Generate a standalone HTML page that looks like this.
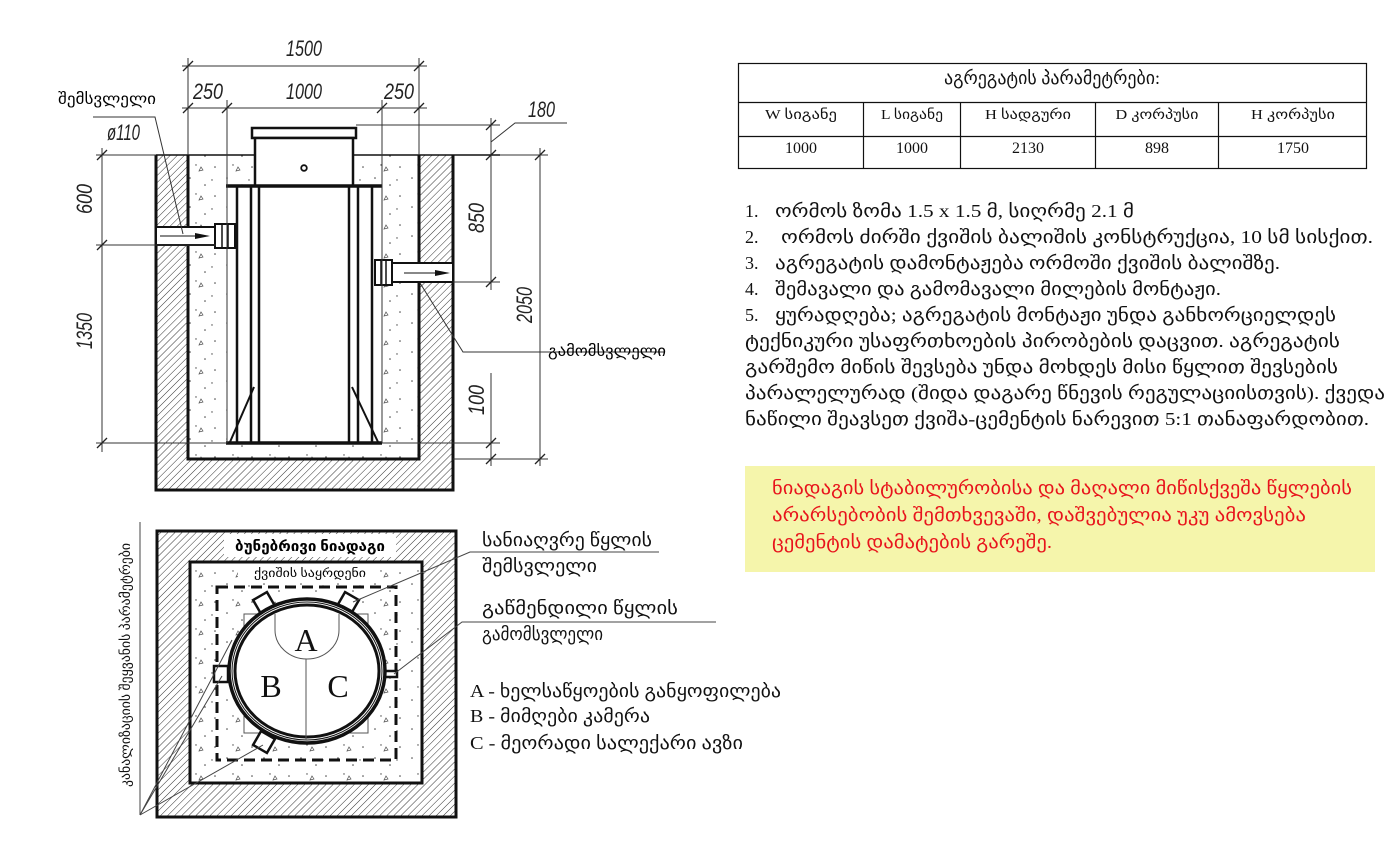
<!DOCTYPE html>
<html><head><meta charset="utf-8"><style>
html,body{margin:0;padding:0;background:#fff}
svg{display:block}
.g{font-family:"Liberation Serif","DejaVu Sans",serif}
.d{font-family:"Liberation Sans Narrow","Liberation Sans",sans-serif;font-style:italic;font-size:22px;fill:#222}
</style></head><body>
<svg width="1400" height="855" viewBox="0 0 1400 855" xmlns="http://www.w3.org/2000/svg">
<defs>
<pattern id="h" width="5" height="5" patternUnits="userSpaceOnUse" patternTransform="rotate(45)">
<rect width="5" height="5" fill="#fff"/><line x1="0" y1="0" x2="0" y2="5" stroke="#333" stroke-width="1"/>
</pattern>
<pattern id="c" width="37" height="29" patternUnits="userSpaceOnUse">
<rect width="37" height="29" fill="#fff"/>
<circle cx="5" cy="4" r="0.8" fill="#444"/><circle cx="20" cy="11" r="0.8" fill="#444"/>
<circle cx="30" cy="22" r="0.8" fill="#444"/><circle cx="11" cy="20" r="0.7" fill="#444"/>
<circle cx="27" cy="6" r="0.7" fill="#444"/><path d="M14 26 l4 -1 l-2 -3z" fill="none" stroke="#555" stroke-width="0.7"/>
</pattern>
</defs>

<!-- ================= TOP DRAWING ================= -->
<rect x="156" y="155" width="297" height="335" fill="url(#h)"/>
<rect x="188" y="155" width="231" height="304" fill="url(#c)"/>
<path d="M156 155 V490 H453 V155 M188 155 V459 H419 V155" fill="none" stroke="#111" stroke-width="3"/>
<line x1="156" y1="155" x2="254" y2="155" stroke="#111" stroke-width="1.5"/>
<line x1="353" y1="155" x2="500" y2="155" stroke="#111" stroke-width="1.5"/>
<rect x="227" y="186" width="155" height="257" fill="#fff"/>
<rect x="252" y="128" width="104" height="10" fill="#fff" stroke="#111" stroke-width="2.5"/>
<rect x="255" y="138" width="98" height="48" fill="#fff" stroke="#111" stroke-width="2.5"/>
<circle cx="304" cy="168" r="2.8" fill="none" stroke="#111" stroke-width="1.8"/>
<line x1="226" y1="186" x2="382" y2="186" stroke="#111" stroke-width="3.5"/>
<line x1="226" y1="443" x2="382" y2="443" stroke="#111" stroke-width="3.5"/>
<g stroke="#111" stroke-width="2.5">
<line x1="237" y1="186" x2="237" y2="443"/><line x1="251" y1="186" x2="251" y2="443"/><line x1="259" y1="186" x2="259" y2="443"/>
<line x1="349" y1="186" x2="349" y2="443"/><line x1="358" y1="186" x2="358" y2="443"/><line x1="372" y1="186" x2="372" y2="443"/>
<line x1="230" y1="442" x2="254" y2="387" stroke-width="2"/><line x1="378" y1="442" x2="352" y2="387" stroke-width="2"/>
</g>
<rect x="156" y="227" width="60" height="18" fill="#fff" stroke="#111" stroke-width="2"/>
<rect x="215" y="224" width="20" height="24" fill="#fff" stroke="#111" stroke-width="2"/>
<line x1="222" y1="224" x2="222" y2="248" stroke="#111" stroke-width="1.5"/><line x1="228" y1="224" x2="228" y2="248" stroke="#111" stroke-width="1.5"/>
<line x1="160" y1="236" x2="208" y2="236" stroke="#111" stroke-width="1"/><path d="M195 233 L210 236 L195 239z" fill="#111"/>
<rect x="392" y="263" width="61" height="19" fill="#fff" stroke="#111" stroke-width="2"/>
<rect x="375" y="260" width="17" height="25" fill="#fff" stroke="#111" stroke-width="2"/>
<line x1="381" y1="260" x2="381" y2="285" stroke="#111" stroke-width="1.5"/><line x1="386" y1="260" x2="386" y2="285" stroke="#111" stroke-width="1.5"/>
<line x1="404" y1="273" x2="448" y2="273" stroke="#111" stroke-width="1"/><path d="M435 270 L450 273 L435 276z" fill="#111"/>
<g stroke="#333" stroke-width="1" fill="none">
<line x1="188" y1="58" x2="188" y2="155"/><line x1="419" y1="58" x2="419" y2="155"/>
<line x1="227" y1="100" x2="227" y2="443"/><line x1="382" y1="100" x2="382" y2="443"/>
<line x1="182" y1="66" x2="427" y2="66"/><line x1="182" y1="108" x2="427" y2="108"/>
<line x1="102" y1="148" x2="102" y2="452"/>
<line x1="96" y1="155" x2="156" y2="155"/><line x1="96" y1="245" x2="216" y2="245"/><line x1="96" y1="443" x2="227" y2="443"/>
<line x1="491" y1="118" x2="491" y2="290"/><line x1="491" y1="373" x2="491" y2="466"/>
<line x1="540" y1="148" x2="540" y2="466"/>
<line x1="356" y1="125" x2="500" y2="125"/><line x1="453" y1="282" x2="500" y2="282"/>
<line x1="382" y1="443" x2="500" y2="443"/><line x1="453" y1="459" x2="548" y2="459"/><line x1="500" y1="155" x2="548" y2="155"/>
<path d="M491 142 L515 123 H567"/>
<path d="M93 117 H155 L183 234"/>
<path d="M420 283 L463 352 H665"/>
</g>
<g stroke="#222" stroke-width="1.3">
<path d="M183 71 l10 -10 M414 71 l10 -10 M183 113 l10 -10 M222 113 l10 -10 M377 113 l10 -10 M414 113 l10 -10"/>
<path d="M97 160 l10 -10 M97 250 l10 -10 M97 448 l10 -10"/>
<path d="M486 130 l10 -10 M486 160 l10 -10 M486 287 l10 -10 M486 448 l10 -10 M486 464 l10 -10 M535 160 l10 -10 M535 464 l10 -10"/>
</g>
<text class="d" x="286" y="56" textLength="36" lengthAdjust="spacingAndGlyphs">1500</text>
<text class="d" x="193" y="99" textLength="30" lengthAdjust="spacingAndGlyphs">250</text>
<text class="d" x="286" y="99" textLength="36" lengthAdjust="spacingAndGlyphs">1000</text>
<text class="d" x="384" y="99" textLength="30" lengthAdjust="spacingAndGlyphs">250</text>
<text class="d" x="528" y="117" textLength="27" lengthAdjust="spacingAndGlyphs">180</text>
<text class="d" x="107" y="140" textLength="33" lengthAdjust="spacingAndGlyphs" font-size="20">ø110</text>
<text class="d" transform="translate(92,199) rotate(-90)" x="-15" textLength="30" lengthAdjust="spacingAndGlyphs">600</text>
<text class="d" transform="translate(92,331) rotate(-90)" x="-18" textLength="36" lengthAdjust="spacingAndGlyphs">1350</text>
<text class="d" transform="translate(484,218) rotate(-90)" x="-15" textLength="30" lengthAdjust="spacingAndGlyphs">850</text>
<text class="d" transform="translate(484,400) rotate(-90)" x="-15" textLength="30" lengthAdjust="spacingAndGlyphs">100</text>
<text class="d" transform="translate(532,305) rotate(-90)" x="-18" textLength="36" lengthAdjust="spacingAndGlyphs">2050</text>
<text class="g" x="58" y="104" font-size="15" textLength="98" lengthAdjust="spacingAndGlyphs">შემსვლელი</text>
<text class="g" x="548" y="356" font-size="15" textLength="118" lengthAdjust="spacingAndGlyphs">გამომსვლელი</text>

<!-- ================= TABLE ================= -->
<g stroke="#111" stroke-width="1.2" fill="none">
<rect x="738.5" y="63.5" width="628" height="105"/>
<line x1="738" y1="102.5" x2="1367" y2="102.5"/><line x1="738" y1="136.5" x2="1367" y2="136.5"/>
<line x1="863.5" y1="103" x2="863.5" y2="169"/><line x1="960.5" y1="103" x2="960.5" y2="169"/>
<line x1="1095.5" y1="103" x2="1095.5" y2="169"/><line x1="1218.5" y1="103" x2="1218.5" y2="169"/>
</g>
<g class="g" font-size="14" text-anchor="middle" fill="#111">
<text x="1052" y="84" font-size="18" textLength="216" lengthAdjust="spacingAndGlyphs">აგრეგატის პარამეტრები:</text>
<text x="801" y="119" textLength="72" lengthAdjust="spacingAndGlyphs">W სიგანე</text>
<text x="912" y="119" textLength="62" lengthAdjust="spacingAndGlyphs">L სიგანე</text>
<text x="1028" y="119" textLength="86" lengthAdjust="spacingAndGlyphs">H სადგური</text>
<text x="1157" y="119" textLength="83" lengthAdjust="spacingAndGlyphs">D კორპუსი</text>
<text x="1293" y="119" textLength="84" lengthAdjust="spacingAndGlyphs">H კორპუსი</text>
<g font-size="16">
<text x="801" y="153">1000</text><text x="912" y="153">1000</text><text x="1028" y="153">2130</text>
<text x="1157" y="153">898</text><text x="1293" y="153">1750</text>
</g>
</g>

<!-- ================= NOTES ================= -->
<g class="g" font-size="18" fill="#111">
<text x="745" y="217">1.</text><text x="775" y="217" textLength="359" lengthAdjust="spacingAndGlyphs">ორმოს ზომა 1.5 x 1.5 მ, სიღრმე 2.1 მ</text>
<text x="745" y="243">2.</text><text x="781" y="243" textLength="592" lengthAdjust="spacingAndGlyphs">ორმოს ძირში ქვიშის ბალიშის კონსტრუქცია, 10 სმ სისქით.</text>
<text x="745" y="269">3.</text><text x="775" y="269" textLength="505" lengthAdjust="spacingAndGlyphs">აგრეგატის დამონტაჟება ორმოში ქვიშის ბალიშზე.</text>
<text x="745" y="295">4.</text><text x="775" y="295" textLength="446" lengthAdjust="spacingAndGlyphs">შემავალი და გამომავალი მილების მონტაჟი.</text>
<text x="745" y="321">5.</text><text x="775" y="321" textLength="561" lengthAdjust="spacingAndGlyphs">ყურადღება; აგრეგატის მონტაჟი უნდა განხორციელდეს</text>
<text x="745" y="347" textLength="595" lengthAdjust="spacingAndGlyphs">ტექნიკური უსაფრთხოების პირობების დაცვით. აგრეგატის</text>
<text x="745" y="373" textLength="593" lengthAdjust="spacingAndGlyphs">გარშემო მიწის შევსება უნდა მოხდეს მისი წყლით შევსების</text>
<text x="745" y="399" textLength="640" lengthAdjust="spacingAndGlyphs">პარალელურად (შიდა დაგარე წნევის რეგულაციისთვის). ქვედა</text>
<text x="745" y="425" textLength="624" lengthAdjust="spacingAndGlyphs">ნაწილი შეავსეთ ქვიშა-ცემენტის ნარევით 5:1 თანაფარდობით.</text>
</g>
<rect x="745" y="466" width="630" height="106" fill="#f5f5ab"/>
<g class="g" font-size="18" fill="#e8141c">
<text x="772" y="494" textLength="580" lengthAdjust="spacingAndGlyphs">ნიადაგის სტაბილურობისა და მაღალი მიწისქვეშა წყლების</text>
<text x="772" y="521" textLength="534" lengthAdjust="spacingAndGlyphs">არარსებობის შემთხვევაში, დაშვებულია უკუ ამოვსება</text>
<text x="772" y="548" textLength="280" lengthAdjust="spacingAndGlyphs">ცემენტის დამატების გარეშე.</text>
</g>

<!-- ================= BOTTOM DRAWING ================= -->
<rect x="157" y="531" width="299" height="286" fill="url(#h)" stroke="#111" stroke-width="3"/>
<rect x="190" y="562" width="232" height="221" fill="url(#c)" stroke="#111" stroke-width="3"/>
<rect x="224" y="534" width="172" height="23" fill="#fff"/>
<text class="g" x="310" y="551" font-size="14" font-weight="bold" text-anchor="middle" textLength="150" lengthAdjust="spacingAndGlyphs">ბუნებრივი ნიადაგი</text>
<rect x="238" y="565" width="140" height="17" fill="#fff"/>
<text class="g" x="310" y="577" font-size="12" text-anchor="middle" textLength="112" lengthAdjust="spacingAndGlyphs">ქვიშის საყრდენი</text>
<rect x="217" y="587" width="179" height="173" fill="none" stroke="#111" stroke-width="3" stroke-dasharray="11,6"/>
<rect x="244" y="614" width="124" height="119" fill="#fff" stroke="#555" stroke-width="1"/>
<g fill="#fff" stroke="#111" stroke-width="2.5">
<rect x="-8" y="-8" width="16" height="16" transform="translate(264,603) rotate(-30)"/>
<rect x="-8" y="-8" width="16" height="16" transform="translate(348,603) rotate(30)"/>
<rect x="-8" y="-8" width="16" height="16" transform="translate(264,742) rotate(30)"/>
<rect x="214" y="666" width="14" height="16"/>
<rect x="383" y="671" width="14" height="6"/>
</g>
<ellipse cx="307" cy="671" rx="78" ry="72" fill="#fff" stroke="#111" stroke-width="3.5"/>
<ellipse cx="307" cy="671" rx="72" ry="66" fill="none" stroke="#111" stroke-width="3"/>
<ellipse cx="307" cy="671" rx="75" ry="69" fill="none" stroke="#111" stroke-width="1"/>
<path d="M275 614 V630 A32 29 0 0 0 339 630 V614" fill="none" stroke="#555" stroke-width="1"/>
<line x1="306" y1="659" x2="306" y2="740" stroke="#555" stroke-width="1"/>
<g class="g" font-size="32" text-anchor="middle" fill="#111" style="font-family:'Liberation Serif',serif">
<text x="306" y="651">A</text><text x="271" y="697">B</text><text x="338" y="697">C</text>
</g>
<g stroke="#444" stroke-width="1" fill="none">
<path d="M659 552 H470 L353 602"/>
<path d="M716 622 H462 L394 674"/>
<line x1="140" y1="522" x2="140" y2="815"/>
<path d="M140 815 L232 640 M140 815 L222 676 M140 815 L263 745"/>
</g>
<g class="g" font-size="18" fill="#111">
<text x="482" y="546" textLength="170" lengthAdjust="spacingAndGlyphs">სანიაღვრე წყლის</text>
<text x="482" y="572" textLength="115" lengthAdjust="spacingAndGlyphs">შემსვლელი</text>
<text x="482" y="614" textLength="196" lengthAdjust="spacingAndGlyphs">გაწმენდილი წყლის</text>
<text x="482" y="640" textLength="121" lengthAdjust="spacingAndGlyphs">გამომსვლელი</text>
<text x="470" y="697" textLength="311" lengthAdjust="spacingAndGlyphs">A - ხელსაწყოების განყოფილება</text>
<text x="470" y="722" textLength="180" lengthAdjust="spacingAndGlyphs">B - მიმღები კამერა</text>
<text x="470" y="749" textLength="273" lengthAdjust="spacingAndGlyphs">C - მეორადი სალექარი ავზი</text>
</g>
<text class="g" transform="translate(130,665) rotate(-90)" font-size="14" text-anchor="middle" fill="#111" textLength="244" lengthAdjust="spacingAndGlyphs">კანალიზაციის შეყვანის პარამეტრები</text>
</svg>
</body></html>
